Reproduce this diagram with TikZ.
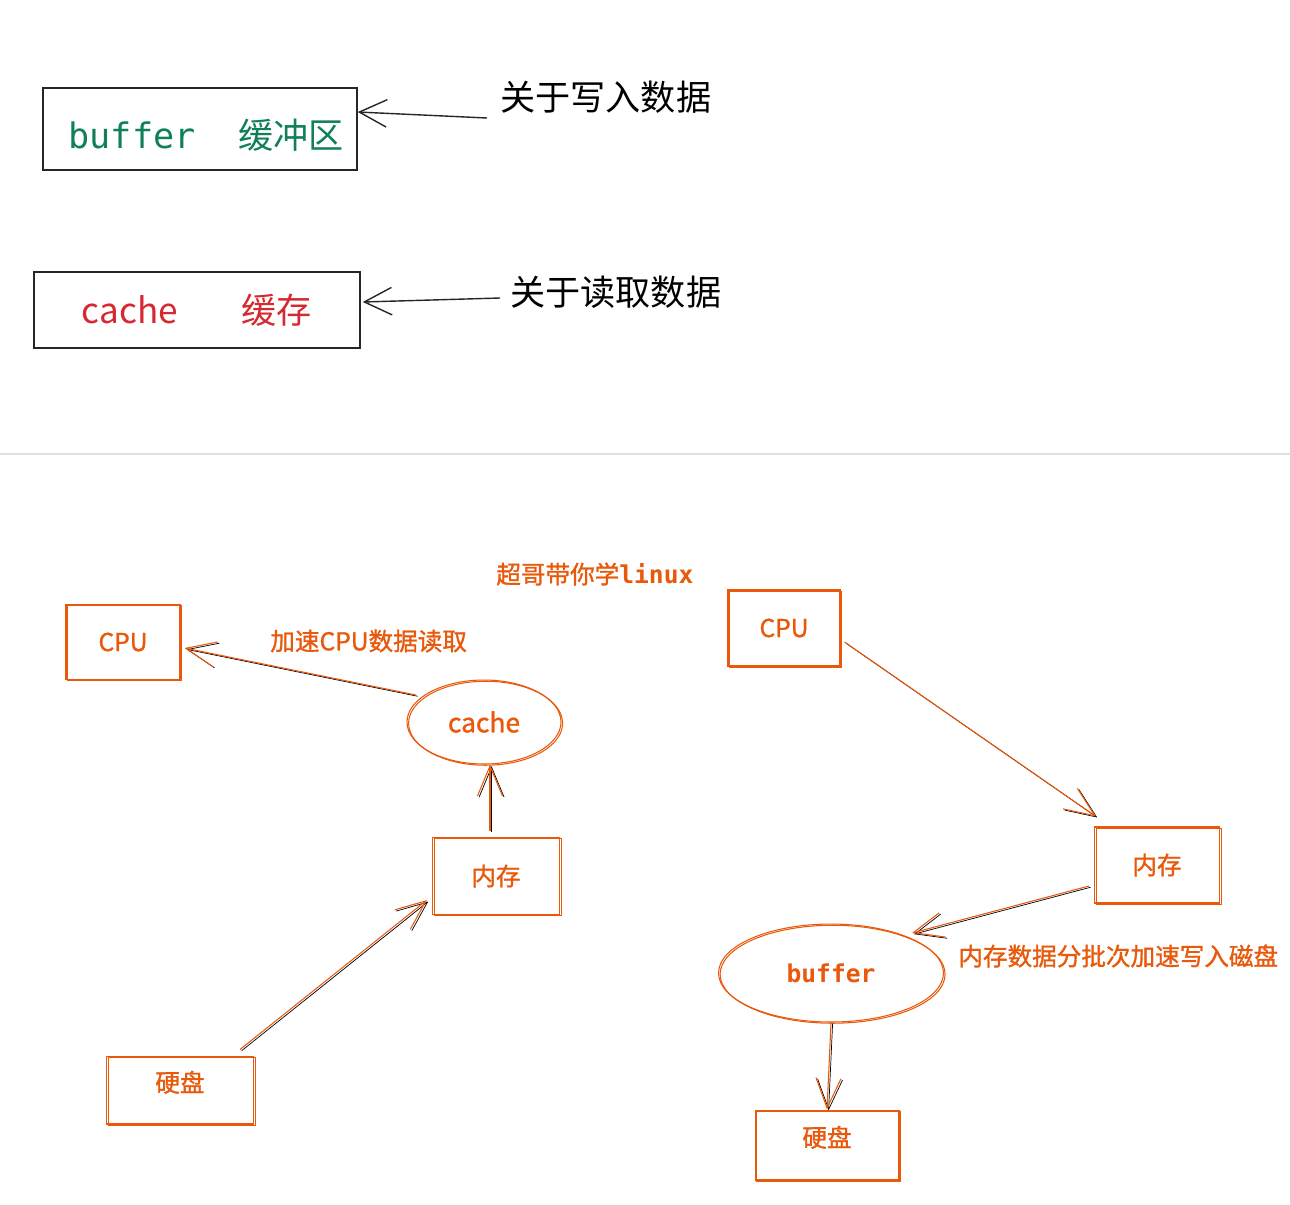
\documentclass[tikz,border=0pt]{standalone}
\usepackage{fontspec}
\setmainfont{Noto Sans CJK SC}
\newfontfamily\monofont{DejaVu Sans Mono}
\newfontfamily\sketchfont[FakeBold=1.2]{Noto Sans CJK SC}
\usetikzlibrary{arrows.meta, shapes.geometric, calc}

\definecolor{sketchorange}{RGB}{232,89,12}
\definecolor{sketchgreen}{RGB}{16,128,88}
\definecolor{sketchred}{RGB}{214,40,48}

\tikzset{
    rough/.style={preaction={draw, transform canvas={xshift=0.9pt, yshift=-0.7pt}}},
    notebox/.style={draw=black!85, line width=0.9pt, inner sep=0pt, font=\fontsize{20}{24}\selectfont},
    notetext/.style={anchor=west, inner sep=0pt, font=\fontsize{20}{24}\selectfont},
    pointer/.style={-{Straight Barb[length=0.55cm, width=0.55cm]}, draw=black!85, line width=0.8pt},
    blockbox/.style={draw=sketchorange, line width=0.6pt, rough, inner sep=0pt, text=sketchorange, font=\fontsize{14}{17}\sketchfont},
    blockoval/.style={blockbox, ellipse},
    blocktext/.style={anchor=west, inner sep=0pt, text=sketchorange, font=\fontsize{14}{17}\sketchfont},
    lifted/.style={text height=0.43cm, text depth=0.36cm},
    flow/.style={-{Straight Barb[length=0.6cm, width=0.5cm]}, draw=sketchorange, line width=0.6pt, rough}
}

\begin{document}
\begin{tikzpicture}[x=0.02cm, y=-0.02cm]
    \useasboundingbox (0,0) rectangle (1290,1204);

    % Hai khái niệm
    \node[notebox, minimum width=6.28cm, minimum height=1.64cm, text height=0.86cm, text depth=0.085cm, text=sketchgreen] (topbuf) at (200,129) {\hspace{0.25cm}{\monofont buffer}\hspace{0.86cm}缓冲区};
    \node[notebox, minimum width=6.52cm, minimum height=1.52cm, text=sketchred] (topcache) at (197,310) {cache\hspace{1.28cm}缓存};
    \node[notetext] (writelabel) at (500,97) {关于写入数据};
    \node[notetext] (readlabel) at (510,292) {关于读取数据};
    \coordinate (writefrom) at (487,118);
    \coordinate (readfrom) at (500,298);
    \draw[pointer] (writefrom) -- ($(topbuf.east)+(0,-17)$);
    \draw[pointer] (readfrom) -- ($(topcache.east)+(2,-8)$);

    % Đường phân cách
    \draw[black!12, line width=0.8pt] (0,454) -- (1290,454);

    \node[blocktext] (author) at (496,574) {超哥带你学{\monofont\bfseries linux}};

    % Đọc: 硬盘 -> 内存 -> cache -> CPU
    \node[blockbox, minimum width=2.28cm, minimum height=1.5cm] (cpuL) at (123,642) {CPU};
    \node[blockoval, minimum width=3.08cm, minimum height=1.68cm, font=\fontsize{15}{18}\sketchfont] (cacheL) at (484,722) {cache};
    \node[blockbox, minimum width=2.54cm, minimum height=1.54cm] (memL) at (496,876) {内存};
    \node[blockbox, lifted, minimum width=2.94cm, minimum height=1.36cm] (diskL) at (180,1090) {硬盘};
    \node[blocktext] (readnote) at (270,641) {加速CPU数据读取};
    \draw[flow] ($(diskL.north east)+(-14,-6)$) -- ($(memL.south west)+(-5,-15)$);
    \draw[flow] ($(memL.north)+(-6,-6)$) -- ($(cacheL.south)+(6,0)$);
    \draw[flow] ($(cacheL.center)+(-68,-27)$) -- ($(cpuL.east)+(4,6)$);

    % Ghi: CPU -> 内存 -> buffer -> 硬盘
    \node[blockbox, minimum width=2.24cm, minimum height=1.52cm] (cpuR) at (784,628) {CPU};
    \node[blockbox, minimum width=2.5cm, minimum height=1.52cm] (memR) at (1157,865) {内存};
    \node[blockoval, minimum width=4.5cm, minimum height=1.96cm, font=\fontsize{14}{17}\monofont\bfseries] (bufR) at (831,973) {buffer};
    \node[blockbox, lifted, minimum width=2.88cm, minimum height=1.4cm] (diskR) at (827,1145) {硬盘};
    \node[blocktext] (writenote) at (958,956) {内存数据分批次加速写入磁盘};
    \draw[flow] ($(cpuR.east)+(4,14)$) -- ($(memR.north west)+(2,-10)$);
    \draw[flow] ($(memR.west)+(-5,21)$) -- ($(bufR.center)+(81,-40)$);
    \draw[flow] (bufR.south) -- (diskR.north);
\end{tikzpicture}
\end{document}
